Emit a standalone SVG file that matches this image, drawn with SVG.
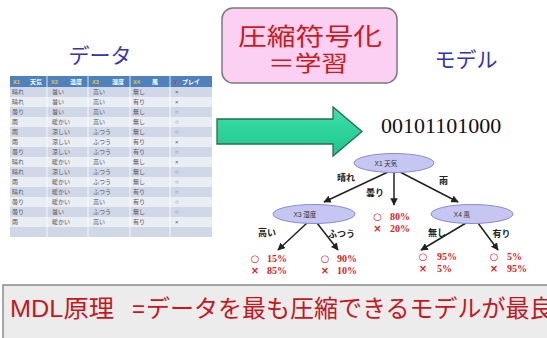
<svg xmlns="http://www.w3.org/2000/svg" width="547" height="338" viewBox="0 0 547 338">
<style>
.ttl{font-family:"Liberation Sans","Noto Sans CJK JP",sans-serif;font-size:21px;fill:#3434b0}
.th{font-family:"Liberation Sans","Noto Sans CJK JP",sans-serif;font-size:6px;fill:#ffffff;font-weight:bold}
.thx{font-family:"Liberation Sans",sans-serif;font-size:5.5px;fill:#f2c230;font-weight:bold}
.td{font-family:"Liberation Sans","Noto Sans CJK JP",sans-serif;font-size:6px;fill:#555}
.odd{fill:#d0d8e8}.even{fill:#e9edf4}
.pk{font-family:"Noto Sans CJK JP",sans-serif;font-size:24px;fill:#d01818;text-anchor:middle}
.ell{fill:#c6c6f2;stroke:#8a8ad0;stroke-width:1}
.el{font-family:"Liberation Sans","Noto Sans CJK JP",sans-serif;font-size:6.5px;fill:#333;text-anchor:middle}
.br{font-family:"Noto Sans CJK JP",sans-serif;font-size:9px;font-weight:bold;fill:#222;text-anchor:middle}
.res{font-family:"Liberation Serif",serif;font-size:10px;font-weight:bold;fill:#e02020}
.sym{font-family:"DejaVu Sans",sans-serif;font-size:10px;font-weight:bold;fill:#e02020;text-anchor:middle}
.edge{stroke:#222;stroke-width:1.5;fill:none;marker-end:url(#ah)}
</style>
<defs>
<marker id="ah" viewBox="0 0 10 10" refX="9" refY="5" markerWidth="5" markerHeight="5" orient="auto"><path d="M0,0 L10,5 L0,10 Z" fill="#222"/></marker>
<linearGradient id="gr" x1="0" y1="0" x2="0" y2="1"><stop offset="0" stop-color="#3ee0a8"/><stop offset="1" stop-color="#1cc68e"/></linearGradient>
</defs>
<rect width="547" height="338" fill="#ffffff"/>

<g id="title-data"><text class="ttl" x="100" y="63" text-anchor="middle">データ</text></g>
<g id="title-model"><text class="ttl" x="466" y="67" text-anchor="middle">モデル</text></g>

<g id="table">
<rect x="10" y="76" width="202" height="11" fill="#4f81bd"/>
<text class="thx" x="13" y="83.5">X1</text><text class="th" x="30" y="83.5">天気</text>
<text class="thx" x="51" y="83.5">X2</text><text class="th" x="70" y="83.5">温度</text>
<text class="thx" x="92" y="83.5">X3</text><text class="th" x="112" y="83.5">湿度</text>
<text class="thx" x="133" y="83.5">X4</text><text class="th" x="152" y="83.5">風</text>
<text class="thx" x="174" y="83.5" style="fill:#e03030">Y</text><text class="th" x="182" y="83.5">プレイ</text>
<rect class="odd" x="10" y="87" width="202" height="10"/>
<rect class="even" x="10" y="97" width="202" height="10"/>
<rect class="odd" x="10" y="107" width="202" height="10"/>
<rect class="even" x="10" y="117" width="202" height="10"/>
<rect class="odd" x="10" y="127" width="202" height="10"/>
<rect class="even" x="10" y="137" width="202" height="10"/>
<rect class="odd" x="10" y="147" width="202" height="10"/>
<rect class="even" x="10" y="157" width="202" height="10"/>
<rect class="odd" x="10" y="167" width="202" height="10"/>
<rect class="even" x="10" y="177" width="202" height="10"/>
<rect class="odd" x="10" y="187" width="202" height="10"/>
<rect class="even" x="10" y="197" width="202" height="10"/>
<rect class="odd" x="10" y="207" width="202" height="10"/>
<rect class="even" x="10" y="217" width="202" height="10"/>
<rect class="odd" x="10" y="227" width="202" height="10"/>
<g stroke="#ffffff" stroke-width="0.8"><line x1="47" y1="76" x2="47" y2="237"/><line x1="88" y1="76" x2="88" y2="237"/><line x1="130" y1="76" x2="130" y2="237"/><line x1="170" y1="76" x2="170" y2="237"/></g>
<g class="td">
<text x="12" y="94">晴れ</text><text x="52" y="94">暑い</text><text x="93" y="94">高い</text><text x="133" y="94">無し</text><text x="175" y="94">×</text>
<text x="12" y="104">晴れ</text><text x="52" y="104">暑い</text><text x="93" y="104">高い</text><text x="133" y="104">有り</text><text x="175" y="104">×</text>
<text x="12" y="114">曇り</text><text x="52" y="114">暑い</text><text x="93" y="114">高い</text><text x="133" y="114">無し</text><text x="175" y="114">○</text>
<text x="12" y="124">雨</text><text x="52" y="124">暖かい</text><text x="93" y="124">高い</text><text x="133" y="124">無し</text><text x="175" y="124">○</text>
<text x="12" y="134">雨</text><text x="52" y="134">涼しい</text><text x="93" y="134">ふつう</text><text x="133" y="134">無し</text><text x="175" y="134">○</text>
<text x="12" y="144">雨</text><text x="52" y="144">涼しい</text><text x="93" y="144">ふつう</text><text x="133" y="144">有り</text><text x="175" y="144">×</text>
<text x="12" y="154">曇り</text><text x="52" y="154">涼しい</text><text x="93" y="154">ふつう</text><text x="133" y="154">有り</text><text x="175" y="154">○</text>
<text x="12" y="164">晴れ</text><text x="52" y="164">暖かい</text><text x="93" y="164">高い</text><text x="133" y="164">無し</text><text x="175" y="164">×</text>
<text x="12" y="174">晴れ</text><text x="52" y="174">涼しい</text><text x="93" y="174">ふつう</text><text x="133" y="174">無し</text><text x="175" y="174">○</text>
<text x="12" y="184">雨</text><text x="52" y="184">暖かい</text><text x="93" y="184">ふつう</text><text x="133" y="184">無し</text><text x="175" y="184">○</text>
<text x="12" y="194">晴れ</text><text x="52" y="194">暖かい</text><text x="93" y="194">ふつう</text><text x="133" y="194">有り</text><text x="175" y="194">○</text>
<text x="12" y="204">曇り</text><text x="52" y="204">暖かい</text><text x="93" y="204">高い</text><text x="133" y="204">有り</text><text x="175" y="204">○</text>
<text x="12" y="214">曇り</text><text x="52" y="214">暑い</text><text x="93" y="214">ふつう</text><text x="133" y="214">無し</text><text x="175" y="214">○</text>
<text x="12" y="224">雨</text><text x="52" y="224">暖かい</text><text x="93" y="224">高い</text><text x="133" y="224">有り</text><text x="175" y="224">×</text>
</g>
</g>

<g id="compress-box">
<rect x="222" y="8" width="175" height="75" rx="11" fill="#fbd0f2" stroke="#7a7a7a" stroke-width="1.5"/>
<text class="pk" x="310" y="45" textLength="144" lengthAdjust="spacingAndGlyphs">圧縮符号化</text>
<text class="pk" x="308" y="71" textLength="80" lengthAdjust="spacingAndGlyphs" style="font-size:22px">＝学習</text>
</g>

<g id="big-arrow">
<path d="M217,119 L333,119 L333,107 L362,131.5 L333,156 L333,144 L217,144 Z" fill="url(#gr)" stroke="#2c6a50" stroke-width="1.3"/>
</g>

<g id="code"><text x="381" y="133" font-family="Liberation Serif,serif" font-size="22" fill="#111">00101101000</text></g>

<g id="connectors">
<line class="edge" x1="388" y1="172" x2="324" y2="202"/>
<line class="edge" x1="394" y1="172" x2="394" y2="205"/>
<line class="edge" x1="400" y1="172" x2="458" y2="202"/>
<line class="edge" x1="307" y1="223" x2="278" y2="250"/>
<line class="edge" x1="317" y1="223" x2="338" y2="250"/>
<line class="edge" x1="466" y1="223" x2="421" y2="250"/>
<line class="edge" x1="478" y1="223" x2="498" y2="250"/>
<text class="br" x="346" y="181">晴れ</text>
<text class="br" x="375" y="196">曇り</text>
<text class="br" x="443.5" y="184">雨</text>
<text class="br" x="267" y="236">高い</text>
<text class="br" x="341.5" y="237">ふつう</text>
<text class="br" x="437" y="236">無し</text>
<text class="br" x="501.5" y="237">有り</text>
</g>

<g id="node-x1"><ellipse class="ell" cx="394" cy="163" rx="40" ry="9.5"/><text class="el" x="386" y="165.5">X1  天気</text></g>
<g id="node-x3"><ellipse class="ell" cx="314" cy="214" rx="41" ry="9.5"/><text class="el" x="305" y="216.5">X3  湿度</text></g>
<g id="node-x4"><ellipse class="ell" cx="472" cy="214" rx="41" ry="9.5"/><text class="el" x="462" y="216.5">X4  風</text></g>

<g id="leaf-cloudy"><text class="sym" x="377.5" y="220">○</text><text class="res" x="390" y="220">80%</text><text class="sym" x="377.5" y="232">×</text><text class="res" x="390" y="232">20%</text></g>
<g id="leaf-high"><text class="sym" x="255" y="262">○</text><text class="res" x="267" y="262">15%</text><text class="sym" x="255" y="274">×</text><text class="res" x="267" y="274">85%</text></g>
<g id="leaf-normal"><text class="sym" x="325" y="262">○</text><text class="res" x="337" y="262">90%</text><text class="sym" x="325" y="274">×</text><text class="res" x="337" y="274">10%</text></g>
<g id="leaf-nowind"><text class="sym" x="423" y="260">○</text><text class="res" x="437" y="260">95%</text><text class="sym" x="423" y="272">×</text><text class="res" x="437" y="272">5%</text></g>
<g id="leaf-wind"><text class="sym" x="494" y="260">○</text><text class="res" x="507" y="260">5%</text><text class="sym" x="494" y="272">×</text><text class="res" x="507" y="272">95%</text></g>

<g id="mdl-box">
<rect x="3" y="285" width="560" height="60" fill="#ececec" stroke="#8a8a8a" stroke-width="1.5"/>
<text x="10" y="317" font-family="Liberation Sans,Noto Sans CJK JP,sans-serif" font-size="24" fill="#c8161d"><tspan textLength="104" lengthAdjust="spacingAndGlyphs">MDL原理</tspan><tspan x="132" textLength="13" lengthAdjust="spacingAndGlyphs">=</tspan><tspan x="146">データを最も圧縮できるモデルが最良</tspan></text>
</g>
</svg>
